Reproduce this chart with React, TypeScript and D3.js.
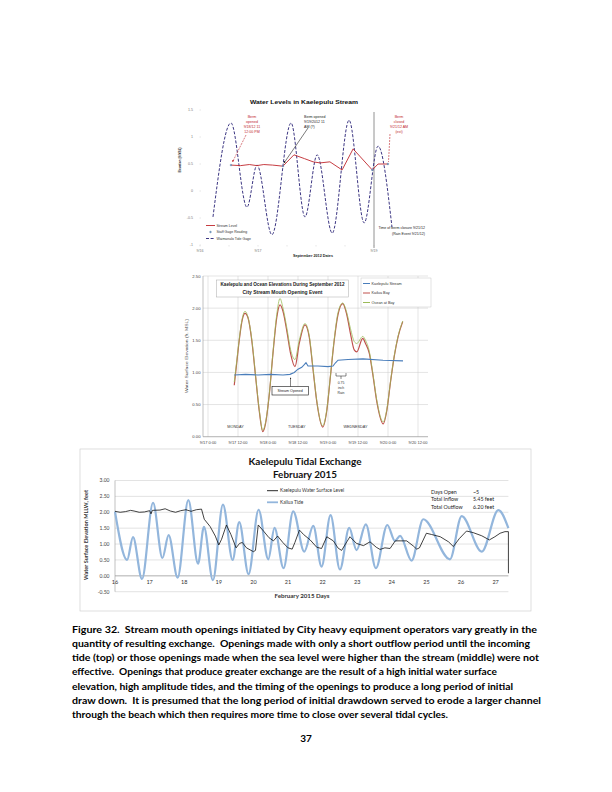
import React from "react";
import * as d3 from "d3";

// ================= TOP CHART: Water Levels in Kaelepulu Stream =================
const topTideDay = [0.224, 0.534, 0.81, 0.983, 1.24, 1.57, 1.81, 2.02, 2.28, 2.57, 2.83, 3.07, 3.31];
const topTideVal = [-0.48, 1.26, -0.3, 0.48, -0.81, 1.26, -0.48, 0.67, -0.78, 1.31, -0.59, 0.83, -0.67];
const topStreamDay = [0.534, 0.7, 0.85, 0.98, 1.1, 1.25, 1.43, 1.62, 1.8, 1.95, 2.07, 2.24, 2.45, 2.64, 2.97, 3.07, 3.24];
const topStreamVal = [0.48, 0.47, 0.49, 0.47, 0.49, 0.48, 0.46, 0.67, 0.6, 0.54, 0.52, 0.54, 0.39, 0.78, 0.39, 0.5, 0.5];
const topStaffDay = [0.534, 1.43, 2.97, 3.24];
const topStaffVal = [0.48, 0.46, 0.39, 0.5];
const topYTicks = [-1, -0.5, 0, 0.5, 1, 1.5];
const topXTickDays = [0, 1, 3];
const topXTickLabels = ["9/16", "9/17", "9/19"];
const topLegend = ["Stream Level", "Staff Gage Reading", "Waimanalo Tide Gage"];

// ================= MIDDLE CHART: September 2012 opening =================
const midHours = [10.5, 11.5, 12.5, 13.5, 14.8, 16, 17.5, 19, 20.5, 21.9, 23, 24.5, 26, 27.5, 28.8, 30, 31.5, 33, 34.8, 36.5, 38.8, 40.5, 42, 43.5, 45.9, 47.5, 49, 50.5, 52, 53.9, 55.5, 57, 58.5, 59.5, 61.9, 63, 64.5, 66, 67.5, 70.1, 71.5, 73, 74.5, 76, 77.9];
const midKailua = [0.8, 1.15, 1.5, 1.78, 1.92, 1.85, 1.5, 0.95, 0.4, 0.08, 0.2, 0.65, 1.3, 1.85, 2.05, 1.95, 1.65, 1.3, 1.09, 1.45, 1.74, 1.55, 1.05, 0.55, 0.15, 0.4, 0.95, 1.5, 1.9, 2.07, 1.9, 1.6, 1.35, 1.32, 1.53, 1.45, 1.3, 0.95, 0.55, 0.2, 0.4, 0.85, 1.25, 1.55, 1.79];
const midOcean = [0.85, 1.18, 1.52, 1.8, 1.95, 1.86, 1.52, 0.96, 0.42, 0.1, 0.22, 0.66, 1.32, 1.9, 2.15, 2.0, 1.7, 1.36, 1.2, 1.5, 1.76, 1.57, 1.07, 0.56, 0.17, 0.42, 0.96, 1.52, 1.93, 2.08, 1.93, 1.68, 1.48, 1.45, 1.56, 1.5, 1.33, 0.97, 0.57, 0.23, 0.42, 0.86, 1.26, 1.56, 1.8];
const midStreamHours = [10.5, 15, 20, 25, 30, 32.8, 34.5, 36, 37.5, 38.5, 39.2, 40, 44, 48, 50, 51, 52, 56, 62, 70, 78];
const midStreamVals = [0.96, 0.97, 0.96, 0.97, 0.96, 0.97, 1.0, 1.05, 1.08, 1.12, 1.15, 1.1, 1.1, 1.09, 1.1, 1.15, 1.19, 1.2, 1.21, 1.19, 1.18];
const midXTickHours = [0, 12, 24, 36, 48, 60, 72, 84];
const midXTickLabels = ["9/17 0:00", "9/17 12:00", "9/18 0:00", "9/18 12:00", "9/19 0:00", "9/19 12:00", "9/20 0:00", "9/20 12:00"];
const midYTicks = [0, 0.5, 1, 1.5, 2, 2.5];
const midLegend = ["Kaelepulu Stream", "Kailua Bay", "Ocean at Bay"];
const midDays = ["MONDAY", "TUESDAY", "WEDNESDAY"];
const midDayHours = [11, 35.5, 59];

// ================= BOTTOM CHART: Kaelepulu Tidal Exchange Feb 2015 =================
const botTideDay = [16.0, 16.35, 16.52, 16.78, 17.1, 17.37, 17.55, 17.81, 18.12, 18.4, 18.57, 18.83, 19.12, 19.4, 19.59, 19.86, 20.15, 20.43, 20.61, 20.87, 21.15, 21.47, 21.73, 21.97, 22.23, 22.5, 22.77, 22.98, 23.25, 23.54, 23.87, 24.09, 24.24, 24.57, 24.91, 25.68, 26.02, 26.6, 27.08, 27.37];
const botTideVal = [2.02, 0.5, 1.22, -0.1, 2.3, 0.56, 1.28, -0.06, 2.38, 0.38, 1.54, -0.14, 2.24, 0.5, 1.69, 0.05, 2.08, 0.52, 1.51, 0.24, 2.03, 0.76, 1.57, 0.29, 1.91, 0.2, 1.51, 0.81, 1.62, 0.24, 1.6, 1.1, 1.26, 0.48, 1.78, 0.52, 1.88, 0.76, 2.07, 1.5];
const botLakeDay = [16.0, 16.15, 16.3, 16.45, 16.55, 16.7, 16.85, 17.0, 17.04, 17.08, 17.3, 17.45, 17.6, 17.75, 17.9, 18.05, 18.2, 18.35, 18.5, 18.58, 18.75, 18.9, 19.0, 19.08, 19.22, 19.35, 19.5, 19.6, 19.68, 19.8, 20.0, 20.06, 20.14, 20.3, 20.45, 20.58, 20.7, 20.85, 21.0, 21.12, 21.2, 21.33, 21.45, 21.64, 21.83, 21.97, 22.12, 22.31, 22.45, 22.55, 22.7, 22.79, 22.98, 23.18, 23.37, 23.55, 23.66, 23.8, 23.95, 24.1, 24.24, 24.43, 24.62, 24.72, 24.8, 25.0, 25.15, 25.4, 25.64, 25.78, 25.95, 26.16, 26.35, 26.6, 26.82, 26.98, 27.13, 27.27, 27.37, 27.371];
const botLakeVal = [2.03, 2.0, 2.02, 2.06, 2.04, 2.0, 2.01, 2.05, 1.95, 2.06, 2.07, 2.11, 2.04, 2.0, 2.05, 2.08, 2.03, 2.08, 2.1, 1.78, 1.55, 1.25, 0.97, 1.15, 1.6, 1.3, 0.88, 1.02, 1.05, 0.88, 0.76, 0.8, 1.6, 1.4, 1.2, 1.1, 1.25, 1.05, 0.88, 0.84, 1.05, 1.44, 1.3, 1.13, 0.9, 0.86, 1.23, 1.1, 0.87, 0.8, 1.07, 1.23, 1.02, 0.95, 1.07, 0.9, 0.83, 0.88, 0.86, 1.1, 1.1, 1.1, 0.94, 0.84, 0.88, 1.34, 1.3, 1.23, 1.07, 0.92, 1.17, 1.41, 1.36, 1.26, 1.13, 1.23, 1.34, 1.39, 1.39, 0.08];
const botXTicks = [16, 17, 18, 19, 20, 21, 22, 23, 24, 25, 26, 27];
const botYTicks = [-0.5, 0, 0.5, 1, 1.5, 2, 2.5, 3];
const botLegend = ["Kaelepulu Water Surface Level", "Kailua Tide"];
const botStatLabels = ["Days Open", "Total Inflow", "Total Outflow"];
const botStatValues = ["~5", "5.45 feet", "6.20 feet"];

// ================= CAPTION =================
const captionLines = [
  "Figure 32.  Stream mouth openings initiated by City heavy equipment operators vary greatly in the",
  "quantity of resulting exchange.  Openings made with only a short outflow period until the incoming",
  "tide (top) or those openings made when the sea level were higher than the stream (middle) were not",
  "effective.  Openings that produce greater exchange are the result of a high initial water surface",
  "elevation, high amplitude tides, and the timing of the openings to produce a long period of initial",
  "draw down.  It is presumed that the long period of initial drawdown served to erode a larger channel",
  "through the beach which then requires more time to close over several tidal cycles.",
];
const captionWidths = [465, 458, 467, 425, 441, 469, 376];

const SANS = "'Liberation Sans', Arial, sans-serif";
const CAL = "Lato, 'Open Sans', sans-serif";

function mkLine(xs: number[], ys: number[], sx: any, sy: any, curve: any) {
  return d3
    .line<number>()
    .x((_, i) => sx(xs[i]))
    .y((v) => sy(v))
    .curve(curve)(ys) as string;
}

export default function App() {
  // ---- scales ----
  const tx = d3.scaleLinear().domain([0, 4]).range([200, 432]);
  const ty = d3.scaleLinear().domain([-1, 1.5]).range([245, 110]);
  const mx = d3.scaleLinear().domain([-2, 88]).range([203, 428]);
  const my = d3.scaleLinear().domain([0, 2.5]).range([436.7, 276]);
  const bx = d3.scaleLinear().domain([16, 27.37]).range([115, 508.4]);
  const by = d3.scaleLinear().domain([-0.5, 3]).range([591.7, 480.5]);

  const topTidePath = mkLine(topTideDay, topTideVal, tx, ty, d3.curveMonotoneX);
  const topStreamPath = mkLine(topStreamDay, topStreamVal, tx, ty, d3.curveLinear);
  const midKailuaPath = mkLine(midHours, midKailua, mx, my, d3.curveMonotoneX);
  const midOceanPath = mkLine(midHours, midOcean, mx, my, d3.curveMonotoneX);
  const midStreamPath = mkLine(midStreamHours, midStreamVals, mx, my, d3.curveLinear);
  const botTidePath = mkLine(botTideDay, botTideVal, bx, by, d3.curveMonotoneX);
  const botLakePath = mkLine(botLakeDay, botLakeVal, bx, by, d3.curveLinear);

  const purple = "#3c3683";
  const red = "#c0272d";
  return (
    <svg
      width={612}
      height={792}
      viewBox="0 0 612 792"
      style={{ position: "absolute", left: 0, top: 0, background: "#fff" }}
    >
      <defs>
        <marker id="arR" viewBox="0 0 6 6" refX="5" refY="3" markerWidth="4" markerHeight="4" orient="auto">
          <path d="M0,0 L6,3 L0,6 z" fill={red} />
        </marker>
        <marker id="arK" viewBox="0 0 6 6" refX="5" refY="3" markerWidth="4" markerHeight="4" orient="auto">
          <path d="M0,0 L6,3 L0,6 z" fill="#222" />
        </marker>
      </defs>
      <rect x={0} y={0} width={612} height={792} fill="#fff" />

      {/* ================= TOP CHART ================= */}
      <g>
        <text x={304} y={104} textAnchor="middle" fontFamily={SANS} fontWeight="bold" fontSize={6} textLength={108} lengthAdjust="spacingAndGlyphs" fill="#111">
          Water Levels in Kaelepulu Stream
        </text>
        {topYTicks.map((t) => (
          <g key={"ty" + t}>
            <text x={193} y={ty(t) + 1.3} textAnchor="end" fontFamily={SANS} fontSize={3.6} fill="#777">
              {t}
            </text>
            <line x1={199.5} x2={201} y1={ty(t)} y2={ty(t)} stroke="#ccc" strokeWidth={0.5} />
          </g>
        ))}
        {[0, 0.5, 1, 1.5, 2, 2.5, 3].map((d) => (
          <line key={"tk" + d} x1={tx(d)} x2={tx(d)} y1={245} y2={246.5} stroke="#ccc" strokeWidth={0.5} />
        ))}
        {topXTickDays.map((d, i) => (
          <text key={"tx" + d} x={tx(d)} y={252} textAnchor="middle" fontFamily={SANS} fontSize={3.6} fill="#777">
            {topXTickLabels[i]}
          </text>
        ))}
        <text x={313} y={257} textAnchor="middle" fontFamily={SANS} fontWeight="bold" fontSize={3.8} textLength={40} lengthAdjust="spacingAndGlyphs" fill="#222">
          September 2012 Dates
        </text>
        <text transform="translate(181,160) rotate(-90)" textAnchor="middle" fontFamily={SANS} fontWeight="bold" fontSize={3.6} textLength={25} lengthAdjust="spacingAndGlyphs" fill="#222">
          Elevation (ft MSL)
        </text>
        {/* closure line */}
        <line x1={tx(3)} x2={tx(3)} y1={112} y2={248} stroke="#777" strokeWidth={0.8} />
        {/* tide */}
        <path d={topTidePath} fill="none" stroke={purple} strokeWidth={1} strokeDasharray="3,1.6" />
        {/* stream */}
        <path d={topStreamPath} fill="none" stroke={red} strokeWidth={0.9} />
        {topStaffDay.map((d, i) => (
          <circle key={"st" + i} cx={tx(d)} cy={ty(topStaffVal[i])} r={0.9} fill="#7aa0c8" stroke="#4a6e96" strokeWidth={0.3} />
        ))}
        {/* annotations */}
        {["Berm", "opened", "9/18/12 11", "12:00 PM"].map((s, i) => (
          <text key={"a1" + i} x={252} y={117.5 + i * 5} textAnchor="middle" fontFamily={SANS} fontSize={3.6} fill={red}>
            {s}
          </text>
        ))}
        <line x1={246} y1={135} x2={232.5} y2={162} stroke={red} strokeWidth={0.6} strokeDasharray="2,1" markerEnd="url(#arR)" />
        {["Berm opened", "9/19/2012 11", "AM (?)"].map((s, i) => (
          <text key={"a2" + i} x={304} y={117.5 + i * 5} fontFamily={SANS} fontSize={3.6} fill="#222">
            {s}
          </text>
        ))}
        <line x1={308} y1={128} x2={284} y2={163} stroke="#222" strokeWidth={0.6} markerEnd="url(#arK)" />
        {["Berm", "closed", "9/21/12 AM", "(est)"].map((s, i) => (
          <text key={"a3" + i} x={399} y={117.5 + i * 5} textAnchor="middle" fontFamily={SANS} fontSize={3.6} fill={red}>
            {s}
          </text>
        ))}
        <line x1={390} y1={134} x2={388.5} y2={162} stroke={red} strokeWidth={0.6} strokeDasharray="2,1" />
        <text x={425} y={229} textAnchor="end" fontFamily={SANS} fontSize={3.6} fill="#222">
          Time of berm closure 9/21/12
        </text>
        <text x={425} y={234.5} textAnchor="end" fontFamily={SANS} fontSize={3.6} fill="#222">
          (Rain Event 9/21/12)
        </text>
        {/* legend */}
        {topLegend.map((s, i) => {
          const y = 225.5 + i * 6.5;
          return (
            <g key={"tl" + i}>
              {i === 0 && <line x1={206} x2={215} y1={y} y2={y} stroke={red} strokeWidth={0.9} />}
              {i === 1 && <circle cx={210.5} cy={y} r={0.9} fill="#7aa0c8" stroke="#4a6e96" strokeWidth={0.3} />}
              {i === 2 && <line x1={206} x2={215} y1={y} y2={y} stroke={purple} strokeWidth={1} strokeDasharray="3,1.6" />}
              <text x={216.5} y={y + 1.3} fontFamily={SANS} fontSize={3.5} fill="#333">
                {s}
              </text>
            </g>
          );
        })}
      </g>

      {/* ================= MIDDLE CHART ================= */}
      <g>
        {midYTicks.map((t) => (
          <g key={"my" + t}>
            <line x1={203} x2={428} y1={my(t)} y2={my(t)} stroke="#c8c8c8" strokeWidth={0.5} />
            <text x={200.5} y={my(t) + 1.5} textAnchor="end" fontFamily={SANS} fontSize={4.2} fill="#444">
              {t.toFixed(2)}
            </text>
          </g>
        ))}
        {midXTickHours.map((h, i) => (
          <g key={"mx" + h}>
            <line x1={mx(h)} x2={mx(h)} y1={276} y2={436.7} stroke="#c8c8c8" strokeWidth={0.5} />
            <text x={mx(h)} y={444} textAnchor="middle" fontFamily={SANS} fontSize={4} fill="#444">
              {midXTickLabels[i]}
            </text>
          </g>
        ))}
        <line x1={203} x2={203} y1={276} y2={436.7} stroke="#999" strokeWidth={0.6} />
        <line x1={203} x2={428} y1={436.7} y2={436.7} stroke="#999" strokeWidth={0.6} />
        <text transform="translate(188,356) rotate(-90)" textAnchor="middle" fontFamily={SANS} fontSize={4.2} textLength={74} lengthAdjust="spacingAndGlyphs" fill="#444">
          Water Surface Elevation (ft, MSL)
        </text>
        <path d={midKailuaPath} fill="none" stroke="#c0504d" strokeWidth={1.2} />
        <path d={midOceanPath} fill="none" stroke="#9bbb59" strokeWidth={1} strokeOpacity={0.8} />
        <path d={midStreamPath} fill="none" stroke="#4a7ebb" strokeWidth={1.1} />
        {midDays.map((d, i) => (
          <text key={"md" + i} x={mx(midDayHours[i])} y={428} textAnchor="middle" fontFamily={SANS} fontSize={3.8} fill="#333">
            {d}
          </text>
        ))}
        {/* title box */}
        <rect x={216.7} y={280} width={131.6} height={17} fill="#fff" stroke="#aaa" strokeWidth={0.5} />
        <text x={282.5} y={286.3} textAnchor="middle" fontFamily={SANS} fontWeight="bold" fontSize={4.5} textLength={124} lengthAdjust="spacingAndGlyphs" fill="#222">
          Kaelepulu and Ocean Elevations During September 2012
        </text>
        <text x={282.5} y={293.5} textAnchor="middle" fontFamily={SANS} fontWeight="bold" fontSize={4.5} textLength={80} lengthAdjust="spacingAndGlyphs" fill="#222">
          City Stream Mouth Opening Event
        </text>
        {/* legend */}
        <rect x={361} y={278} width={70} height={29} fill="#fff" stroke="#bbb" strokeWidth={0.4} />
        {midLegend.map((s, i) => {
          const y = 283.5 + i * 9.5;
          const c = ["#4a7ebb", "#c0504d", "#9bbb59"][i];
          return (
            <g key={"ml" + i}>
              <line x1={363} x2={370} y1={y} y2={y} stroke={c} strokeWidth={1} />
              <text x={371.5} y={y + 1.4} fontFamily={SANS} fontSize={3.8} fill="#333">
                {s}
              </text>
            </g>
          );
        })}
        {/* stream opened box */}
        <rect x={272} y={386.5} width={36.5} height={8.5} fill="#fff" stroke="#111" strokeWidth={0.6} />
        <text x={290.2} y={392.3} textAnchor="middle" fontFamily={SANS} fontSize={3.6} fill="#222">
          Stream Opened
        </text>
        <line x1={mx(33)} x2={mx(33)} y1={386.5} y2={377.8} stroke="#111" strokeWidth={0.5} markerEnd="url(#arK)" />
        {/* rain bracket */}
        <path d="M336,373 L336,376 L346,376 L346,373 M341,376 L341,379" fill="none" stroke="#111" strokeWidth={0.5} />
        {["0.75", "inch", "Rain"].map((s, i) => (
          <text key={"rb" + i} x={341} y={383.5 + i * 5} textAnchor="middle" fontFamily={SANS} fontSize={3.4} fill="#333">
            {s}
          </text>
        ))}
      </g>

      {/* ================= BOTTOM CHART ================= */}
      <g>
        <rect x={80} y={449} width={451} height={162} fill="none" stroke="#d0d0d0" strokeWidth={0.7} />
        <text x={305} y={465} textAnchor="middle" fontFamily={CAL} fontWeight="bold" fontSize={9.5} textLength={113} lengthAdjust="spacingAndGlyphs" fill="#111">
          Kaelepulu Tidal Exchange
        </text>
        <text x={305} y={477.5} textAnchor="middle" fontFamily={CAL} fontWeight="bold" fontSize={9.5} textLength={64} lengthAdjust="spacingAndGlyphs" fill="#111">
          February 2015
        </text>
        {botYTicks.map((t) => (
          <g key={"by" + t}>
            <line x1={115} x2={508.4} y1={by(t)} y2={by(t)} stroke="#d0d0d0" strokeWidth={0.6} />
            <text x={109.5} y={by(t) + 1.8} textAnchor="end" fontFamily={CAL} fontSize={5} fill="#444">
              {t.toFixed(2)}
            </text>
          </g>
        ))}
        <line x1={115} x2={115} y1={480.5} y2={591.7} stroke="#999" strokeWidth={0.6} />
        <line x1={115} x2={508.4} y1={by(0)} y2={by(0)} stroke="#999" strokeWidth={0.6} />
        {botXTicks.map((d) => (
          <text key={"bx" + d} x={bx(d)} y={584} textAnchor="middle" fontFamily={CAL} fontSize={5.5} fill="#333">
            {d}
          </text>
        ))}
        <text x={302} y={598} textAnchor="middle" fontFamily={CAL} fontWeight="bold" fontSize={5} textLength={55} lengthAdjust="spacingAndGlyphs" fill="#333">
          February 2015 Days
        </text>
        <text transform="translate(88,535) rotate(-90)" textAnchor="middle" fontFamily={CAL} fontWeight="bold" fontSize={5.3} textLength={90} lengthAdjust="spacingAndGlyphs" fill="#333">
          Water Surface Elevation MLLW, feet
        </text>
        <path d={botTidePath} fill="none" stroke="#93b6dc" strokeWidth={2.2} />
        <path d={botLakePath} fill="none" stroke="#111" strokeWidth={0.8} />
        {/* legend */}
        {botLegend.map((s, i) => {
          const y = 490.7 + i * 11.6;
          return (
            <g key={"bl" + i}>
              <line x1={267} x2={278} y1={y} y2={y} stroke={i === 0 ? "#111" : "#93b6dc"} strokeWidth={i === 0 ? 0.9 : 1.8} />
              <text x={280} y={y + 1.7} fontFamily={CAL} fontSize={4.8} fill="#333">
                {s}
              </text>
            </g>
          );
        })}
        {botStatLabels.map((s, i) => (
          <g key={"bs" + i}>
            <text x={431} y={493.5 + i * 7.8} fontFamily={CAL} fontSize={5.3} fill="#222">
              {s}
            </text>
            <text x={473} y={493.5 + i * 7.8} fontFamily={CAL} fontSize={5.3} fill="#222">
              {botStatValues[i]}
            </text>
          </g>
        ))}
      </g>

      {/* ================= CAPTION ================= */}
      {captionLines.map((s, i) => (
        <text key={"c" + i} x={72} y={633 + i * 14.15} fontFamily={CAL} fontWeight="bold" fontSize={10.3} textLength={captionWidths[i]} lengthAdjust="spacingAndGlyphs" fill="#000" style={{ whiteSpace: "pre" }}>
          {s}
        </text>
      ))}
      <text x={306} y={742} textAnchor="middle" fontFamily={CAL} fontWeight="bold" fontSize={10} fill="#000">
        37
      </text>
    </svg>
  );
}
